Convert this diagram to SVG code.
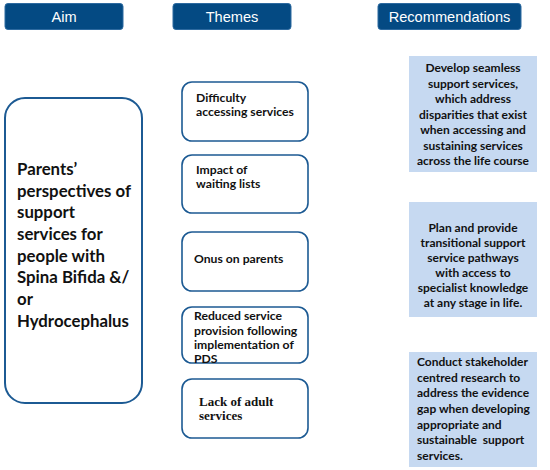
<svg xmlns="http://www.w3.org/2000/svg" width="550" height="470" viewBox="0 0 550 470">
<style>
.hdr{fill:#044a83;stroke:#2d6aa0;stroke-width:1}
.hdrt{font-family:"Liberation Sans",Arial,sans-serif;font-size:14.6px;fill:#ffffff;text-anchor:middle}
.box{fill:#ffffff;stroke:#1c5a93;stroke-width:1.6}
.aim{fill:#ffffff;stroke:#1c5a93;stroke-width:2}
.rec{fill:#c6d9f1}
.b{font-family:Lato,"Open Sans",sans-serif;font-weight:bold;fill:#111111}
.aimt{font-size:16.8px}
.tht{font-size:12.2px}
.rect{font-size:12px}
.mid{text-anchor:middle}
.serif{font-family:"Liberation Serif","Times New Roman",serif;font-weight:bold;font-size:13px;fill:#111111}
</style>
<rect width="550" height="470" fill="#ffffff"/>
<g id="hdr-aim"><rect class="hdr" x="5" y="3.5" width="118" height="26" rx="3"/><text class="hdrt" x="64" y="22">Aim</text></g>
<g id="hdr-themes"><rect class="hdr" x="173" y="3.5" width="118" height="26" rx="3"/><text class="hdrt" x="232" y="22">Themes</text></g>
<g id="hdr-recs"><rect class="hdr" x="378" y="3.5" width="143" height="26" rx="3"/><text class="hdrt" x="449.5" y="22">Recommendations</text></g>

<g id="aim">
<rect class="aim" x="5" y="98" width="137" height="305" rx="20"/>
<text class="b aimt" x="17" y="175">Parents’</text>
<text class="b aimt" x="17" y="196.7">perspectives of</text>
<text class="b aimt" x="17" y="218.3">support</text>
<text class="b aimt" x="17" y="240">services for</text>
<text class="b aimt" x="17" y="261.7">people with</text>
<text class="b aimt" x="17" y="283.3">Spina Bifida &amp;/</text>
<text class="b aimt" x="17" y="305">or</text>
<text class="b aimt" x="17" y="326.7">Hydrocephalus</text>
</g>

<g id="theme1"><rect class="box" x="182" y="82" width="126" height="59" rx="10"/>
<text class="b tht" x="196" y="102">Difficulty</text><text class="b tht" x="196" y="116">accessing services</text></g>
<g id="theme2"><rect class="box" x="182" y="155" width="126" height="58" rx="10"/>
<text class="b tht" x="196" y="173.5">Impact of</text><text class="b tht" x="196" y="187.5">waiting lists</text></g>
<g id="theme3"><rect class="box" x="182" y="232" width="126" height="59" rx="10"/>
<text class="b tht" x="194" y="263">Onus on parents</text></g>
<g id="theme4"><rect class="box" x="182" y="307" width="126" height="56" rx="10"/>
<text class="b tht" x="194" y="320">Reduced service</text><text class="b tht" x="194" y="334.5">provision following</text><text class="b tht" x="194" y="348.5">implementation of</text><text class="b tht" x="194" y="362.5">PDS</text></g>
<g id="theme5"><rect class="box" x="182" y="379" width="126" height="59" rx="10"/>
<text class="serif" x="199" y="406">Lack of adult</text><text class="serif" x="199" y="419.5">services</text></g>

<g id="rec1"><rect class="rec" x="409" y="56" width="128" height="116"/>
<text class="b rect mid" x="473" y="72">Develop seamless</text>
<text class="b rect mid" x="473" y="87.5">support services,</text>
<text class="b rect mid" x="473" y="103">which address</text>
<text class="b rect mid" x="473" y="118.5">disparities that exist</text>
<text class="b rect mid" x="473" y="134">when accessing and</text>
<text class="b rect mid" x="473" y="149.5">sustaining services</text>
<text class="b rect mid" x="473" y="165">across the life course</text></g>

<g id="rec2"><rect class="rec" x="409" y="202" width="128" height="115"/>
<text class="b rect mid" x="473" y="231.7">Plan and provide</text>
<text class="b rect mid" x="473" y="246.7">transitional support</text>
<text class="b rect mid" x="473" y="261.7">service pathways</text>
<text class="b rect mid" x="473" y="276.7">with access to</text>
<text class="b rect mid" x="473" y="291.7">specialist knowledge</text>
<text class="b rect mid" x="473" y="306.7">at any stage in life.</text></g>

<g id="rec3"><rect class="rec" x="409" y="352" width="128" height="115"/>
<text class="b rect" x="417" y="366">Conduct stakeholder</text>
<text class="b rect" x="417" y="381.7">centred research to</text>
<text class="b rect" x="417" y="397.3">address the evidence</text>
<text class="b rect" x="417" y="413">gap when developing</text>
<text class="b rect" x="417" y="428.7">appropriate and</text>
<text class="b rect" x="417" y="444.3" xml:space="preserve">sustainable  support</text>
<text class="b rect" x="417" y="460">services.</text></g>

<g id="connectors"></g>
</svg>
